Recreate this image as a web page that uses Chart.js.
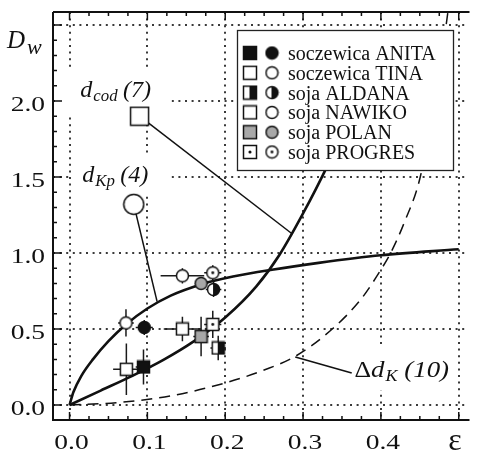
<!DOCTYPE html>
<html>
<head>
<meta charset="utf-8">
<script src="https://cdn.jsdelivr.net/npm/chart.js@4.4.1/dist/chart.umd.min.js"></script>
<style>
  html, body { margin: 0; padding: 0; background: #fff; }
</style>
</head>
<body>
<canvas id="myChart" width="479" height="454"></canvas>
<script>
// axis ticks
const xTickVals = [0, 0.1, 0.2, 0.3, 0.4, 0.5];
const xTickLabels = ['0.0', '0.1', '0.2', '0.3', '0.4', ''];
const yTickVals = [0, 0.5, 1.0, 1.5, 2.0, 2.5];
const yTickLabels = ['0.0', '0.5', '1.0', '1.5', '2.0', ''];

const cultivars = ['soczewica ANITA', 'soczewica TINA', 'soja ALDANA', 'soja NAWIKO', 'soja POLAN', 'soja PROGRES'];

// d_cod measurements (squares)
const codEps    = [0.095, 0.073, 0.191, 0.145, 0.169, 0.184];
const codVal    = [0.25, 0.235, 0.375, 0.50, 0.45, 0.53];
const codEpsErr = [0.010, 0.017, 0.010, 0.024, 0.010, 0.011];
const codValErr = [0.115, 0.17, 0.08, 0.08, 0.13, 0.09];

// d_Kp measurements (circles)
const kpEps    = [0.096, 0.0725, 0.185, 0.145, 0.169, 0.184];
const kpVal    = [0.51, 0.54, 0.76, 0.85, 0.80, 0.87];
const kpEpsErr = [0.011, 0.010, 0.010, 0.028, 0.008, 0.011];
const kpValErr = [0.05, 0.09, 0.05, 0.05, 0.03, 0.05];

// model curves
const kpCurveEps = [0, 0.005, 0.015, 0.03, 0.05, 0.0725, 0.1, 0.13, 0.17, 0.21, 0.26, 0.32, 0.4, 0.5];
const kpCurveD   = [0, 0.085, 0.19, 0.30, 0.42, 0.53, 0.635, 0.72, 0.795, 0.845, 0.89, 0.935, 0.985, 1.025];

const codCurveEps = [0, 0.04, 0.08, 0.12, 0.16, 0.2, 0.24, 0.27, 0.3, 0.33, 0.36];
const codCurveD   = [0, 0.095, 0.19, 0.295, 0.42, 0.575, 0.78, 0.99, 1.26, 1.56, 1.9];

const dkCurveEps = [0, 0.06, 0.13, 0.2, 0.25, 0.29, 0.3375, 0.375, 0.4, 0.4125, 0.43, 0.451, 0.4775, 0.487];
const dkCurveD   = [0, 0.015, 0.06, 0.145, 0.23, 0.32, 0.5, 0.7, 0.89, 1.0, 1.2, 1.51, 2.27, 2.62];

// callouts: label marker -> curve
const codCallEps = [0.09, 0.285];
const codCallD   = [1.90, 1.13];
const kpCallEps  = [0.0825, 0.1125];
const kpCallD    = [1.32, 0.68];
const dkCallEps  = [0.29, 0.3625];
const dkCallD    = [0.316, 0.21];

// label anchors (data coords)
const labelEps = [0.01375, 0.01625, 0.366];
const labelD   = [2.026, 1.467, 0.184];

const SERIF = '"Liberation Serif", serif';
const fillKinds = ['black', 'white', 'half', 'white', 'gray', 'dot'];

function marker(shape, fill, size) {
  const c = document.createElement('canvas');
  c.width = c.height = size + 2;
  const g = c.getContext('2d');
  const m = (size + 2) / 2, h = size / 2 - 0.5;
  g.lineWidth = 1.5;
  g.strokeStyle = '#111';
  const path = () => {
    g.beginPath();
    if (shape === 'sq') g.rect(m - h, m - h, 2 * h, 2 * h);
    else g.arc(m, m, h, 0, Math.PI * 2);
  };
  path();
  g.fillStyle = fill === 'black' ? '#111' : fill === 'gray' ? '#a8a8a8' : '#fff';
  g.fill();
  if (fill === 'half') {
    g.save(); path(); g.clip();
    g.fillStyle = '#111';
    g.fillRect(m - 0.5, 0, m + 1, size + 2);
    g.restore();
  }
  if (fill === 'dot') {
    g.beginPath();
    g.arc(m, m, Math.max(1.2, size * 0.11), 0, Math.PI * 2);
    g.fillStyle = '#111';
    g.fill();
  }
  path();
  g.stroke();
  return c;
}

const sqMarks = fillKinds.map(f => marker('sq', f, 13));
const ciMarks = fillKinds.map(f => marker('ci', f, 13));
const sqLeg = fillKinds.map(f => marker('sq', f, 14));
const ciLeg = fillKinds.map(f => marker('ci', f, 13));
const bigSquare = marker('sq', 'white', 19);
const bigCircle = marker('ci', 'white', 21);

const pts = (xs, ys) => xs.map((x, i) => ({ x: x, y: ys[i] }));

function drawRun(g, parts, x, y, sx) {
  g.save();
  g.translate(x, y);
  g.scale(sx, 1);
  let cx = 0;
  parts.forEach(p => {
    g.font = p.font;
    cx += p.gap || 0;
    g.fillText(p.t, cx, p.dy || 0);
    cx += g.measureText(p.t).width;
  });
  g.restore();
}

const chartPlugin = {
  id: 'paperFigure',
  beforeDatasetsDraw(chart) {
    const g = chart.ctx, xs = chart.scales.x, ys = chart.scales.y;
    // white patches behind the callout labels
    g.save();
    g.fillStyle = '#fff';
    const boxes = [[-21, -29, 112, 45], [-11, -27, 100, 40], [-5, -32, 108, 45]];
    boxes.forEach((b, i) => {
      const px = xs.getPixelForValue(labelEps[i]), py = ys.getPixelForValue(labelD[i]);
      g.fillRect(px + b[0], py + b[1], b[2], b[3]);
    });
    // error bars
    g.strokeStyle = '#1a1a1a';
    g.lineWidth = 1.5;
    const bars = (ex, ey, dx, dy) => ex.forEach((e, i) => {
      const px = xs.getPixelForValue(e), py = ys.getPixelForValue(ey[i]);
      g.beginPath();
      g.moveTo(xs.getPixelForValue(e - dx[i]), py);
      g.lineTo(xs.getPixelForValue(e + dx[i]), py);
      g.moveTo(px, ys.getPixelForValue(ey[i] - dy[i]));
      g.lineTo(px, ys.getPixelForValue(ey[i] + dy[i]));
      g.stroke();
    });
    bars(codEps, codVal, codEpsErr, codValErr);
    bars(kpEps, kpVal, kpEpsErr, kpValErr);
    g.restore();
  },
  afterDatasetsDraw(chart) {
    const g = chart.ctx, xs = chart.scales.x, ys = chart.scales.y;
    const a = chart.chartArea;
    g.save();

    // legend box
    g.fillStyle = '#fff';
    g.fillRect(237, 30, 216, 140);
    g.strokeStyle = '#222';
    g.lineWidth = 1.3;
    g.strokeRect(237.5, 30.5, 216, 140);
    g.fillStyle = '#111';
    g.textBaseline = 'alphabetic';
    cultivars.forEach((name, i) => {
      const ry = 53 + i * 19.8;
      g.drawImage(sqLeg[i], 250 - sqLeg[i].width / 2, ry - sqLeg[i].height / 2);
      g.drawImage(ciLeg[i], 272 - ciLeg[i].width / 2, ry - ciLeg[i].height / 2);
      g.font = '20px ' + SERIF;
      g.fillText(name, 288, ry + 7);
    });

    // frame and inward ticks
    g.strokeStyle = '#111';
    g.lineWidth = 2;
    g.beginPath();
    g.moveTo(a.left, a.top); g.lineTo(a.right + 2, a.top);
    g.moveTo(a.left, a.top); g.lineTo(a.left, a.bottom);
    g.lineTo(a.right + 2, a.bottom);
    g.stroke();
    g.lineWidth = 1.5;
    g.beginPath();
    for (let k = 0; k <= 20; k++) {
      const v = k * 0.025, px = xs.getPixelForValue(v);
      const len = k % 4 === 0 ? 8 : 4;
      g.moveTo(px, a.bottom); g.lineTo(px, a.bottom - len);
      g.moveTo(px, a.top); g.lineTo(px, a.top + len);
    }
    for (let k = 0; k <= 25; k++) {
      const v = k * 0.1, py = ys.getPixelForValue(v);
      const len = k % 5 === 0 ? 9 : 4;
      g.moveTo(a.left, py); g.lineTo(a.left + len, py);
    }
    g.stroke();

    // tick labels
    g.fillStyle = '#111';
    g.font = '22px ' + SERIF;
    xTickVals.forEach((v, i) => {
      if (!xTickLabels[i]) return;
      const w = g.measureText(xTickLabels[i]).width * 1.25;
      g.save();
      g.translate(xs.getPixelForValue(v) - w / 2 + 2, 449);
      g.scale(1.25, 1);
      g.fillText(xTickLabels[i], 0, 0);
      g.restore();
    });
    yTickVals.forEach((v, i) => {
      if (!yTickLabels[i]) return;
      const w = g.measureText(yTickLabels[i]).width * 1.25;
      g.save();
      g.translate(45 - w, ys.getPixelForValue(v) + 10);
      g.scale(1.25, 1);
      g.fillText(yTickLabels[i], 0, 0);
      g.restore();
    });

    // axis titles
    drawRun(g, [
      { t: 'D', font: 'italic 25px ' + SERIF },
      { t: 'w', font: 'italic 22px ' + SERIF, dy: 6, gap: 2 }
    ], 7, 48, 1);
    g.font = '32px ' + SERIF;
    g.textAlign = 'center';
    g.fillText('ε', 455, 450);
    g.textAlign = 'left';

    // callout labels
    const L = i => [xs.getPixelForValue(labelEps[i]), ys.getPixelForValue(labelD[i])];
    let p = L(0);
    drawRun(g, [
      { t: 'd', font: 'italic 23px ' + SERIF },
      { t: 'cod', font: 'italic 16px ' + SERIF, dy: 4, gap: 1 },
      { t: '(7)', font: 'italic 23px ' + SERIF, gap: 5 }
    ], p[0], p[1], 1.05);
    p = L(1);
    drawRun(g, [
      { t: 'd', font: 'italic 23px ' + SERIF },
      { t: 'Kp', font: 'italic 16px ' + SERIF, dy: 4, gap: 1 },
      { t: '(4)', font: 'italic 23px ' + SERIF, gap: 5 }
    ], p[0], p[1], 1.05);
    p = L(2);
    drawRun(g, [
      { t: 'Δ', font: '23px ' + SERIF },
      { t: 'd', font: 'italic 24px ' + SERIF },
      { t: 'K', font: 'italic 16px ' + SERIF, dy: 4, gap: 1 },
      { t: '(10)', font: 'italic 24px ' + SERIF, gap: 6 }
    ], p[0], p[1], 1.12);
    g.restore();
  }
};

const ctx = document.getElementById('myChart');

const lineDs = (xs, ys, extra) => Object.assign({
  type: 'line',
  data: pts(xs, ys),
  borderColor: '#111',
  borderWidth: 2.6,
  pointRadius: 0,
  fill: false,
  cubicInterpolationMode: 'monotone',
  order: 10
}, extra);

function build() {
  return new Chart(ctx, {
    type: 'scatter',
    data: {
      datasets: [
        {
          label: 'd_cod',
          data: pts(codEps, codVal),
          pointStyle: sqMarks,
          pointRadius: 6,
          order: 1
        },
        {
          label: 'd_Kp',
          data: pts(kpEps, kpVal),
          pointStyle: ciMarks,
          pointRadius: 6,
          order: 1
        },
        lineDs(kpCurveEps, kpCurveD),
        lineDs(codCurveEps, codCurveD),
        lineDs(dkCurveEps, dkCurveD, { borderWidth: 1.5, borderDash: [11, 7] }),
        lineDs(codCallEps, codCallD, {
          borderWidth: 1.5, cubicInterpolationMode: 'default', tension: 0,
          pointStyle: [bigSquare, false], pointRadius: [10, 0], order: 5
        }),
        lineDs(kpCallEps, kpCallD, {
          borderWidth: 1.5, cubicInterpolationMode: 'default', tension: 0,
          pointStyle: [bigCircle, false], pointRadius: [10, 0], order: 5
        }),
        lineDs(dkCallEps, dkCallD, {
          borderWidth: 1.5, cubicInterpolationMode: 'default', tension: 0, order: 5
        })
      ]
    },
    options: {
      responsive: false,
      animation: false,
      devicePixelRatio: 1,
      layout: { padding: { left: 53, top: 12, right: 0, bottom: 34 } },
      plugins: {
        legend: { display: false },
        tooltip: { enabled: false }
      },
      scales: {
        x: {
          type: 'linear',
          min: -0.02125,
          max: 0.51125,
          afterBuildTicks: s => { s.ticks = xTickVals.map(v => ({ value: v })); },
          ticks: { display: false },
          grid: { color: '#3a3a3a', lineWidth: 2, drawTicks: false },
          border: { display: false, dash: [2, 4.6] }
        },
        y: {
          type: 'linear',
          min: -0.0987,
          max: 2.5855,
          afterBuildTicks: s => { s.ticks = yTickVals.map(v => ({ value: v })); },
          ticks: { display: false },
          grid: { color: '#3a3a3a', lineWidth: 2, drawTicks: false },
          border: { display: false, dash: [2, 4.6] }
        }
      }
    },
    plugins: [chartPlugin]
  });
}

const chart = build();
if (document.fonts && document.fonts.load) {
  Promise.all([
    document.fonts.load('20px "Liberation Serif"'),
    document.fonts.load('italic 20px "Liberation Serif"')
  ]).then(() => chart.draw()).catch(() => {});
}
</script>
</body>
</html>
